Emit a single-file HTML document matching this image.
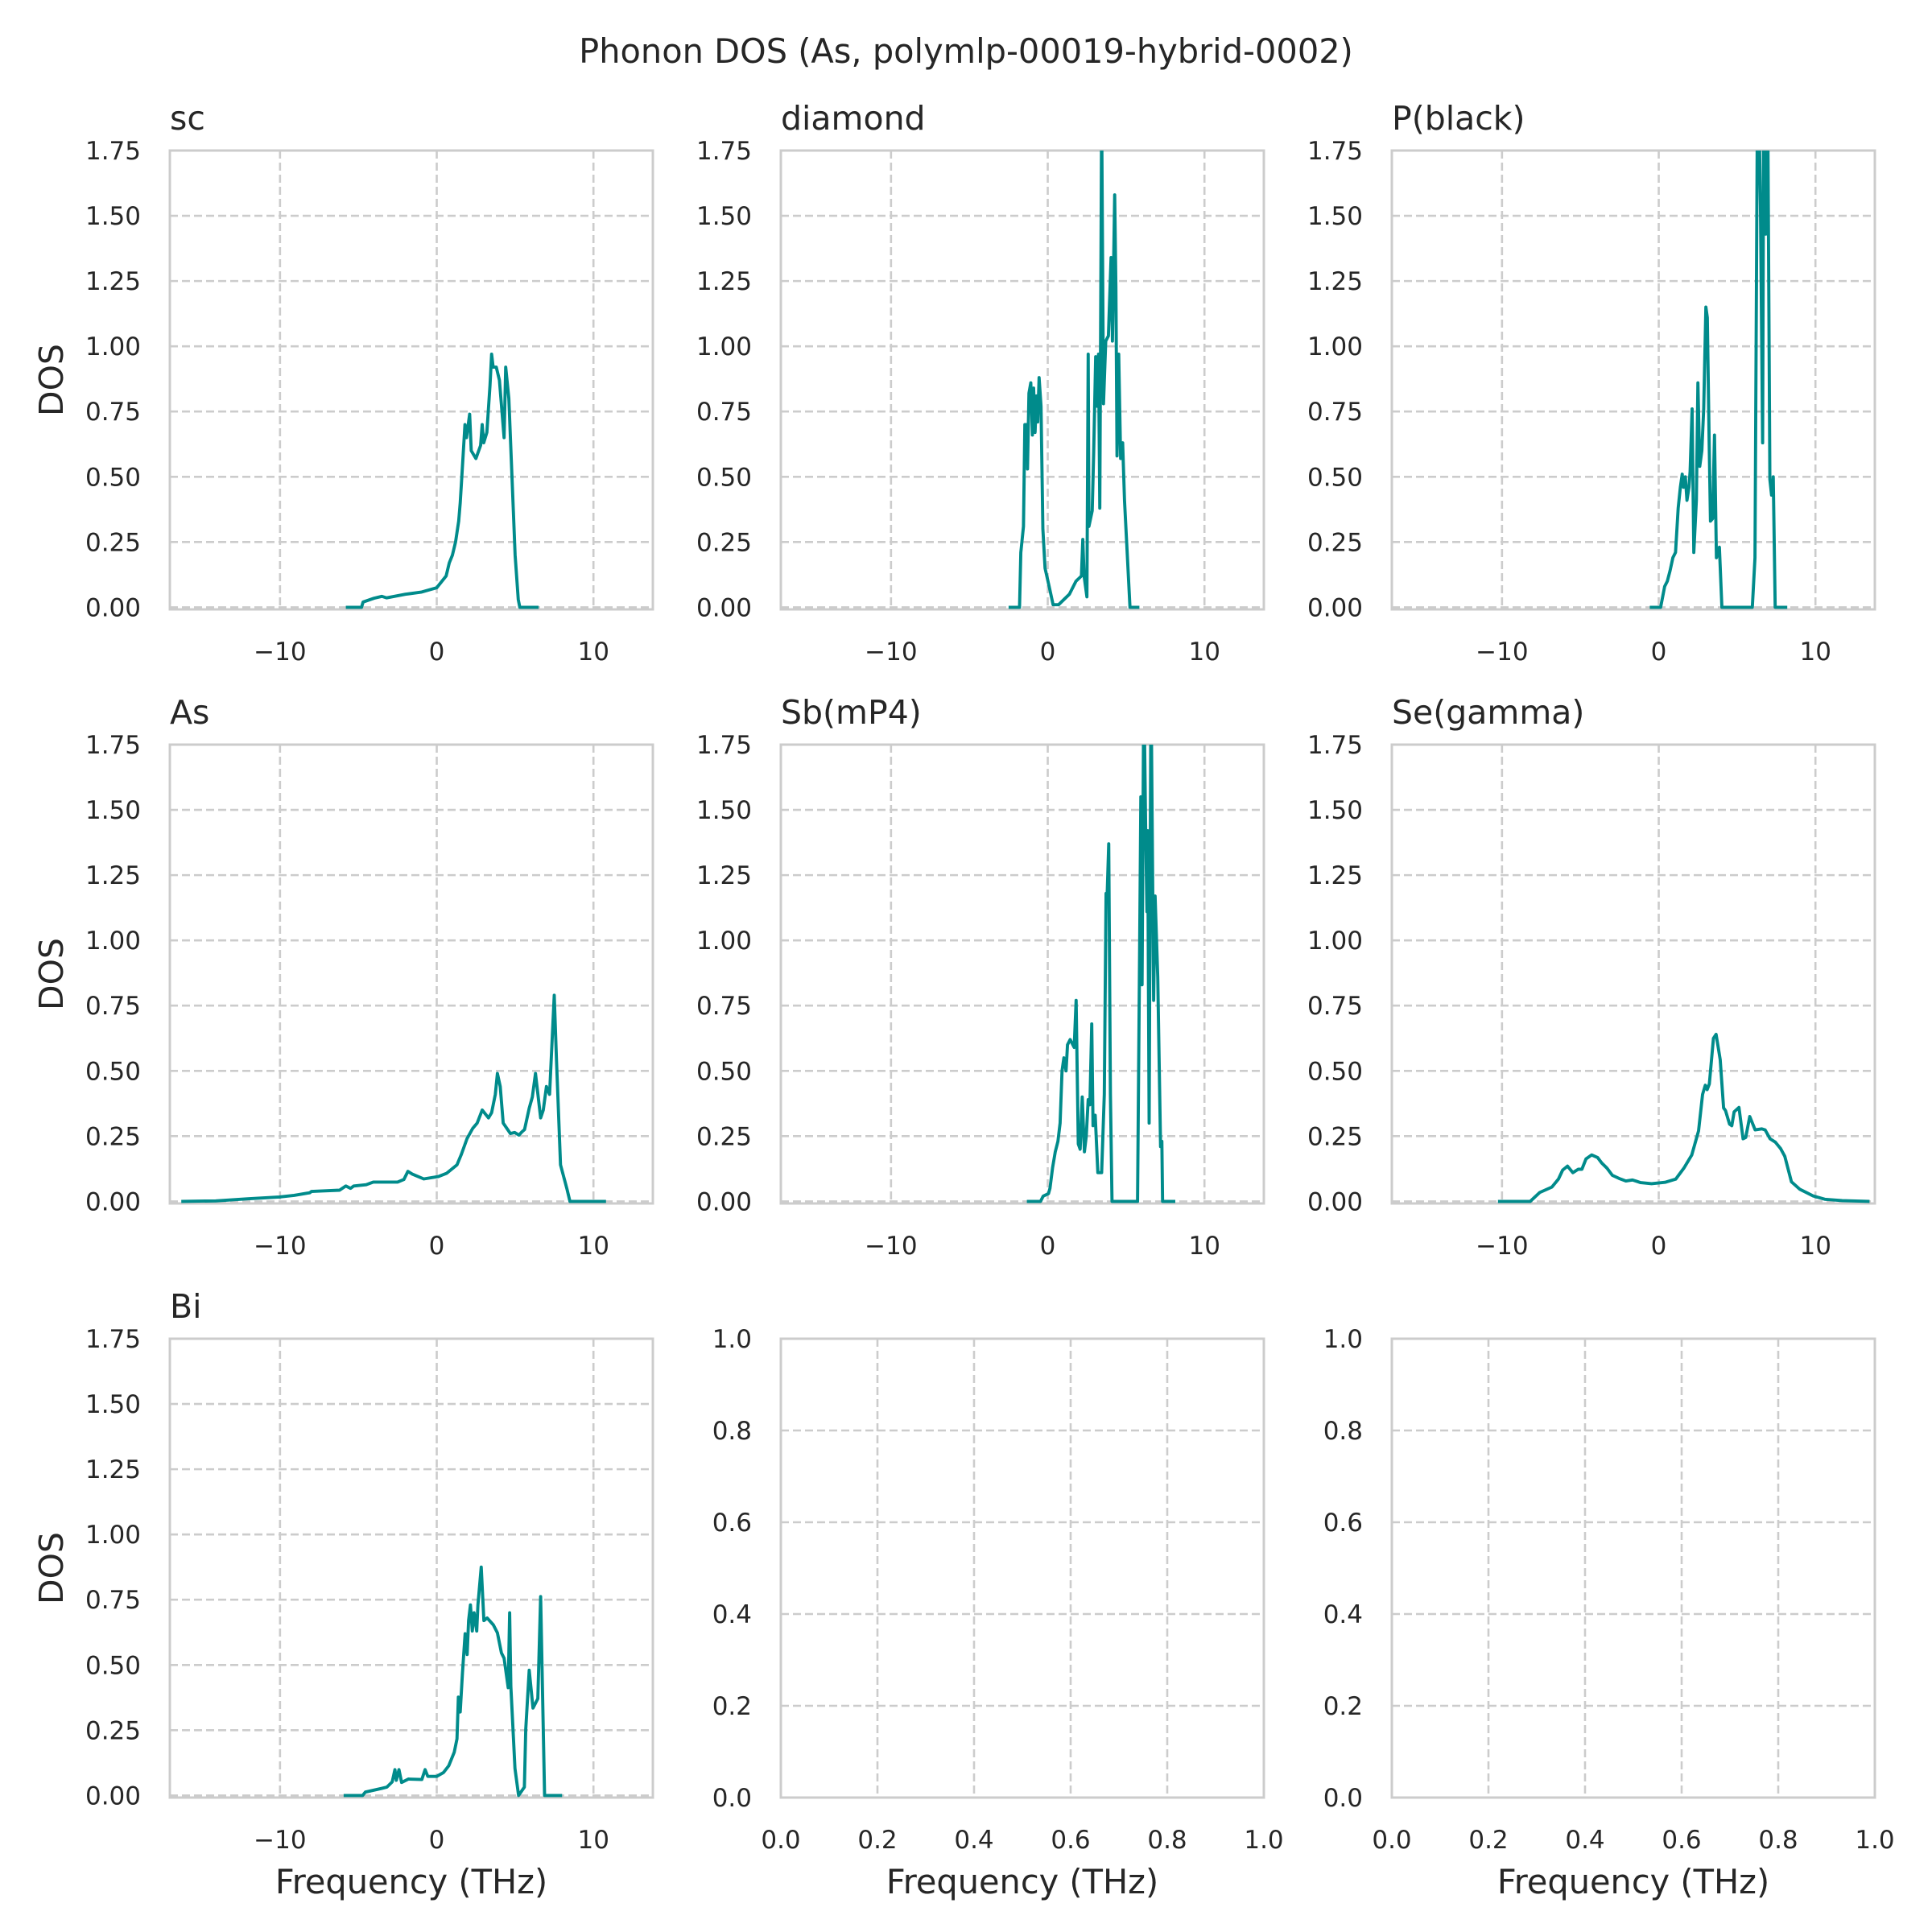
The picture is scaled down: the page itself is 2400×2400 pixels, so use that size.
<!DOCTYPE html>
<html><head><meta charset="utf-8">
<style>
html,body{margin:0;padding:0;background:#fff;}
svg{display:block;font-family:"DejaVu Sans","Liberation Sans",sans-serif;}
</style></head>
<body>
<svg id="fig" xmlns="http://www.w3.org/2000/svg" width="2400" height="2400" viewBox="0 0 2400 2400">
<rect x="0" y="0" width="2400" height="2400" fill="#fff"/>
<text x="1200" y="78" font-size="41.5" fill="#262626" text-anchor="middle">Phonon DOS (As, polymlp-00019-hybrid-0002)</text>
<g id="panels"></g>
</svg>
<script>
// Shared axis data
const xTicks = [-10, 0, 10];
const xTickLabels = ["\u221210", "0", "10"];
const yTicks = [0, 0.25, 0.5, 0.75, 1.0, 1.25, 1.5, 1.75];
const yTickLabels = ["0.00", "0.25", "0.50", "0.75", "1.00", "1.25", "1.50", "1.75"];
const emptyTicks = [0, 0.2, 0.4, 0.6, 0.8, 1.0];
const emptyTickLabels = ["0.0", "0.2", "0.4", "0.6", "0.8", "1.0"];
const panelTitles = ["sc", "diamond", "P(black)", "As", "Sb(mP4)", "Se(gamma)", "Bi"];

// Series: frequency (THz) and DOS values per structure
const scFreq = [-5.8,-4.8,-4.7,-4.0,-3.5,-3.2,-2.0,-1.0,0.0,0.6,0.8,1.0,1.2,1.4,1.5,1.6,1.8,1.9,2.1,2.2,2.5,2.8,2.9,3.0,3.2,3.4,3.5,3.6,3.8,4.0,4.3,4.4,4.6,4.8,5.0,5.2,5.3,6.5];
const scDos  = [0,0,0.02,0.035,0.042,0.036,0.05,0.058,0.075,0.12,0.17,0.2,0.25,0.33,0.4,0.5,0.7,0.65,0.74,0.6,0.57,0.62,0.7,0.63,0.67,0.85,0.97,0.92,0.92,0.87,0.65,0.92,0.8,0.5,0.2,0.03,0,0];

const diaFreq = [-2.5,-1.8,-1.72,-1.55,-1.46,-1.29,-1.29,-1.2,-1.08,-0.98,-0.9,-0.81,-0.72,-0.64,-0.55,-0.43,-0.31,-0.17,0.09,0.34,0.69,1.38,1.8,2.15,2.24,2.32,2.5,2.58,2.63,2.84,2.93,3.06,3.15,3.24,3.32,3.44,3.56,3.7,3.87,4.04,4.13,4.27,4.35,4.42,4.53,4.65,4.78,4.9,5.25,5.85];
const diaDos  = [0,0,0.21,0.31,0.70,0.70,0.53,0.82,0.86,0.66,0.84,0.67,0.81,0.71,0.88,0.77,0.30,0.15,0.08,0.01,0.01,0.05,0.10,0.12,0.26,0.12,0.04,0.97,0.31,0.37,0.59,0.96,0.77,0.97,0.38,1.9,0.78,1.02,1.04,1.34,1.02,1.58,1.23,0.58,0.97,0.57,0.63,0.41,0,0];

const pbFreq = [-0.57,0.12,0.38,0.55,0.72,0.9,1.07,1.24,1.38,1.5,1.58,1.7,1.8,1.93,2.0,2.13,2.24,2.4,2.5,2.62,2.75,2.87,3.01,3.1,3.22,3.3,3.44,3.56,3.68,3.87,4.03,5.97,6.14,6.32,6.49,6.63,6.71,6.83,6.95,7.09,7.2,7.31,7.43,8.2];
const pbDos  = [0,0,0.08,0.10,0.14,0.19,0.21,0.38,0.46,0.51,0.46,0.5,0.41,0.46,0.52,0.76,0.21,0.41,0.86,0.54,0.60,0.76,1.15,1.11,0.63,0.33,0.34,0.66,0.19,0.23,0,0,0.19,2.2,1.54,0.63,2.2,1.43,2.0,0.49,0.43,0.5,0,0];

const asFreq = [-16.3,-14.1,-12.06,-10.04,-9.1,-8.1,-8.0,-7.3,-6.2,-5.8,-5.5,-5.3,-4.5,-4.05,-2.5,-2.1,-1.84,-1.57,-0.83,0.1,0.64,1.29,1.57,1.93,2.3,2.58,2.9,3.3,3.5,3.74,3.87,4.05,4.24,4.7,4.97,5.25,5.43,5.6,5.9,6.1,6.3,6.63,6.8,7.0,7.2,7.5,7.64,7.9,8.3,8.5,10.8];
const asDos  = [0,0.002,0.01,0.017,0.023,0.033,0.038,0.04,0.043,0.059,0.05,0.059,0.064,0.074,0.074,0.084,0.115,0.105,0.086,0.095,0.108,0.14,0.18,0.24,0.28,0.30,0.35,0.32,0.34,0.41,0.49,0.44,0.30,0.26,0.264,0.254,0.266,0.275,0.357,0.40,0.49,0.32,0.35,0.44,0.41,0.79,0.54,0.14,0.05,0,0];

const sbFreq = [-1.33,-0.46,-0.29,0.05,0.14,0.31,0.48,0.65,0.79,0.91,1.03,1.17,1.26,1.43,1.69,1.81,1.95,2.07,2.2,2.34,2.46,2.58,2.69,2.81,2.89,3.03,3.2,3.44,3.61,3.72,3.79,3.89,4.0,4.1,5.73,5.85,5.94,6.02,6.13,6.25,6.33,6.38,6.47,6.59,6.76,6.85,7.02,7.2,7.28,7.33,8.14];
const sbDos  = [0,0,0.02,0.03,0.05,0.13,0.19,0.23,0.30,0.5,0.55,0.5,0.6,0.62,0.59,0.77,0.22,0.2,0.40,0.19,0.25,0.39,0.37,0.68,0.29,0.33,0.11,0.11,0.41,1.18,1.17,1.37,0.41,0,0,0.86,1.55,0.83,2.0,1.42,1.11,1.42,0.30,2.0,0.77,1.17,0.86,0.21,0.23,0,0];

const seFreq = [-10.26,-8.2,-7.6,-6.82,-6.4,-6.13,-5.82,-5.48,-5.14,-4.9,-4.64,-4.28,-3.9,-3.64,-3.3,-2.96,-2.53,-2.1,-1.67,-1.15,-0.46,0.4,1.08,1.6,2.11,2.54,2.8,2.97,3.09,3.23,3.49,3.66,3.92,4.14,4.26,4.52,4.66,4.81,5.12,5.38,5.55,5.81,6.15,6.58,6.79,7.1,7.44,7.78,8.04,8.47,8.99,9.42,9.85,10.6,11.7,13.45];
const seDos  = [0,0,0.034,0.055,0.085,0.12,0.135,0.11,0.123,0.123,0.163,0.178,0.168,0.147,0.127,0.10,0.088,0.078,0.082,0.072,0.068,0.073,0.085,0.127,0.178,0.27,0.41,0.445,0.428,0.45,0.625,0.64,0.543,0.358,0.348,0.296,0.29,0.343,0.36,0.24,0.245,0.325,0.274,0.278,0.274,0.24,0.227,0.202,0.173,0.075,0.047,0.034,0.021,0.008,0.003,0];

const biFreq = [-5.94,-4.73,-4.56,-3.53,-3.18,-2.84,-2.67,-2.58,-2.41,-2.24,-1.81,-0.95,-0.74,-0.57,0.0,0.43,0.77,1.12,1.29,1.38,1.5,1.64,1.81,1.94,2.03,2.15,2.27,2.38,2.55,2.63,2.84,3.01,3.22,3.61,3.87,4.13,4.3,4.56,4.65,4.73,4.99,5.22,5.59,5.68,5.9,6.14,6.45,6.63,6.88,8.0];
const biDos  = [0,0,0.013,0.027,0.032,0.052,0.099,0.058,0.099,0.05,0.063,0.061,0.099,0.073,0.073,0.088,0.114,0.166,0.217,0.377,0.32,0.47,0.62,0.54,0.67,0.73,0.63,0.70,0.63,0.73,0.875,0.67,0.68,0.654,0.623,0.546,0.526,0.413,0.70,0.418,0.104,0,0.032,0.253,0.48,0.335,0.371,0.762,0,0];

const NS = "http://www.w3.org/2000/svg";
const root = document.getElementById("panels");
const colLeft = [211, 970, 1729];
const rowTop = [187, 925, 1663];
const AW = 600, AH = 570;
const xMin = -17.03, xMax = 13.79, yMin = -0.008, yMax = 1.75;
const GRID = "#cccccc", LINE = "#008b8b", TXT = "#262626";

function mk(tag, attrs, parent) {
  const e = document.createElementNS(NS, tag);
  for (const k in attrs) e.setAttribute(k, attrs[k]);
  parent.appendChild(e);
  return e;
}
function xScale(v, x0, lo, hi) { return x0 + (v - lo) / (hi - lo) * AW; }
function yScale(v, y0, lo, hi) { return y0 + AH - (v - lo) / (hi - lo) * AH; }

function drawAxes(idx, r, c, opts) {
  const x0 = colLeft[c], y0 = rowTop[r];
  const g = mk("g", {}, root);
  
  
  const xt = opts.xTicks, xl = opts.xLabels, yt = opts.yTicks, yl = opts.yLabels;
  const grid = mk("g", {}, g);
  
  
  xt.forEach(v => {
    const X = xScale(v, x0, opts.xlo, opts.xhi);
    mk("line", {x1: X, x2: X, y1: y0, y2: y0 + AH, stroke: GRID, "stroke-width": 2.6, "stroke-dasharray": "10,5"}, grid);
  });
  yt.forEach(v => {
    const Y = yScale(v, y0, opts.ylo, opts.yhi);
    mk("line", {x1: x0, x2: x0 + AW, y1: Y, y2: Y, stroke: GRID, "stroke-width": 2.6, "stroke-dasharray": "10,5"}, grid);
  });
  const xtg = mk("g", {}, g);
  
  
  xt.forEach((v, i) => {
    const t = mk("text", {x: xScale(v, x0, opts.xlo, opts.xhi), y: y0 + AH + 63, "font-size": 31, fill: TXT, "text-anchor": "middle"}, xtg);
    t.textContent = xl[i];
  });
  const ytg = mk("g", {}, g);
  
  
  yt.forEach((v, i) => {
    const t = mk("text", {x: x0 - 36, y: yScale(v, y0, opts.ylo, opts.yhi) + 11, "font-size": 31, fill: TXT, "text-anchor": "end"}, ytg);
    t.textContent = yl[i];
  });
  const frame = mk("rect", {x: x0, y: y0, width: AW, height: AH, fill: "none", stroke: GRID, "stroke-width": 3}, g);
  
  
  if (opts.series) {
    const cp = mk("clipPath", {id: "clip" + idx}, g);
    mk("rect", {x: x0, y: y0, width: AW, height: AH}, cp);
    const pts = opts.series[0].map((f, i) => xScale(f, x0, opts.xlo, opts.xhi).toFixed(1) + "," + yScale(opts.series[1][i], y0, opts.ylo, opts.yhi).toFixed(1)).join(" ");
    const pl = mk("polyline", {points: pts, fill: "none", stroke: LINE, "stroke-width": 3.9, "stroke-linejoin": "round", "clip-path": "url(#clip" + idx + ")"}, g);
    
    
  }
  if (opts.title) {
    const t = mk("text", {x: x0, y: y0 - 26, "font-size": 41, fill: TXT}, g);
    
    
    t.textContent = opts.title;
  }
  if (c === 0) {
    const cy = y0 + AH / 2;
    const t = mk("text", {x: 0, y: 0, "font-size": 41, fill: TXT, "text-anchor": "middle", transform: "translate(78," + cy + ") rotate(-90)"}, g);
    
    
    t.textContent = "DOS";
  }
  if (r === 2) {
    const t = mk("text", {x: x0 + AW / 2, y: y0 + AH + 119, "font-size": 41.5, fill: TXT, "text-anchor": "middle"}, g);
    
    
    t.textContent = "Frequency (THz)";
  }
}

const seriesList = [[scFreq, scDos], [diaFreq, diaDos], [pbFreq, pbDos], [asFreq, asDos], [sbFreq, sbDos], [seFreq, seDos], [biFreq, biDos]];
const slugs = ["sc", "diamond", "p-black", "as", "sb-mp4", "se-gamma", "bi"];
for (let i = 0; i < 9; i++) {
  const r = Math.floor(i / 3), c = i % 3;
  if (i < 7) {
    drawAxes(i, r, c, {xTicks: xTicks, xLabels: xTickLabels, yTicks: yTicks, yLabels: yTickLabels,
      xlo: xMin, xhi: xMax, ylo: yMin, yhi: yMax, series: seriesList[i], title: panelTitles[i], slug: slugs[i]});
  } else {
    drawAxes(i, r, c, {xTicks: emptyTicks, xLabels: emptyTickLabels, yTicks: emptyTicks, yLabels: emptyTickLabels,
      xlo: 0, xhi: 1, ylo: 0, yhi: 1});
  }
}
</script>
</body></html>
